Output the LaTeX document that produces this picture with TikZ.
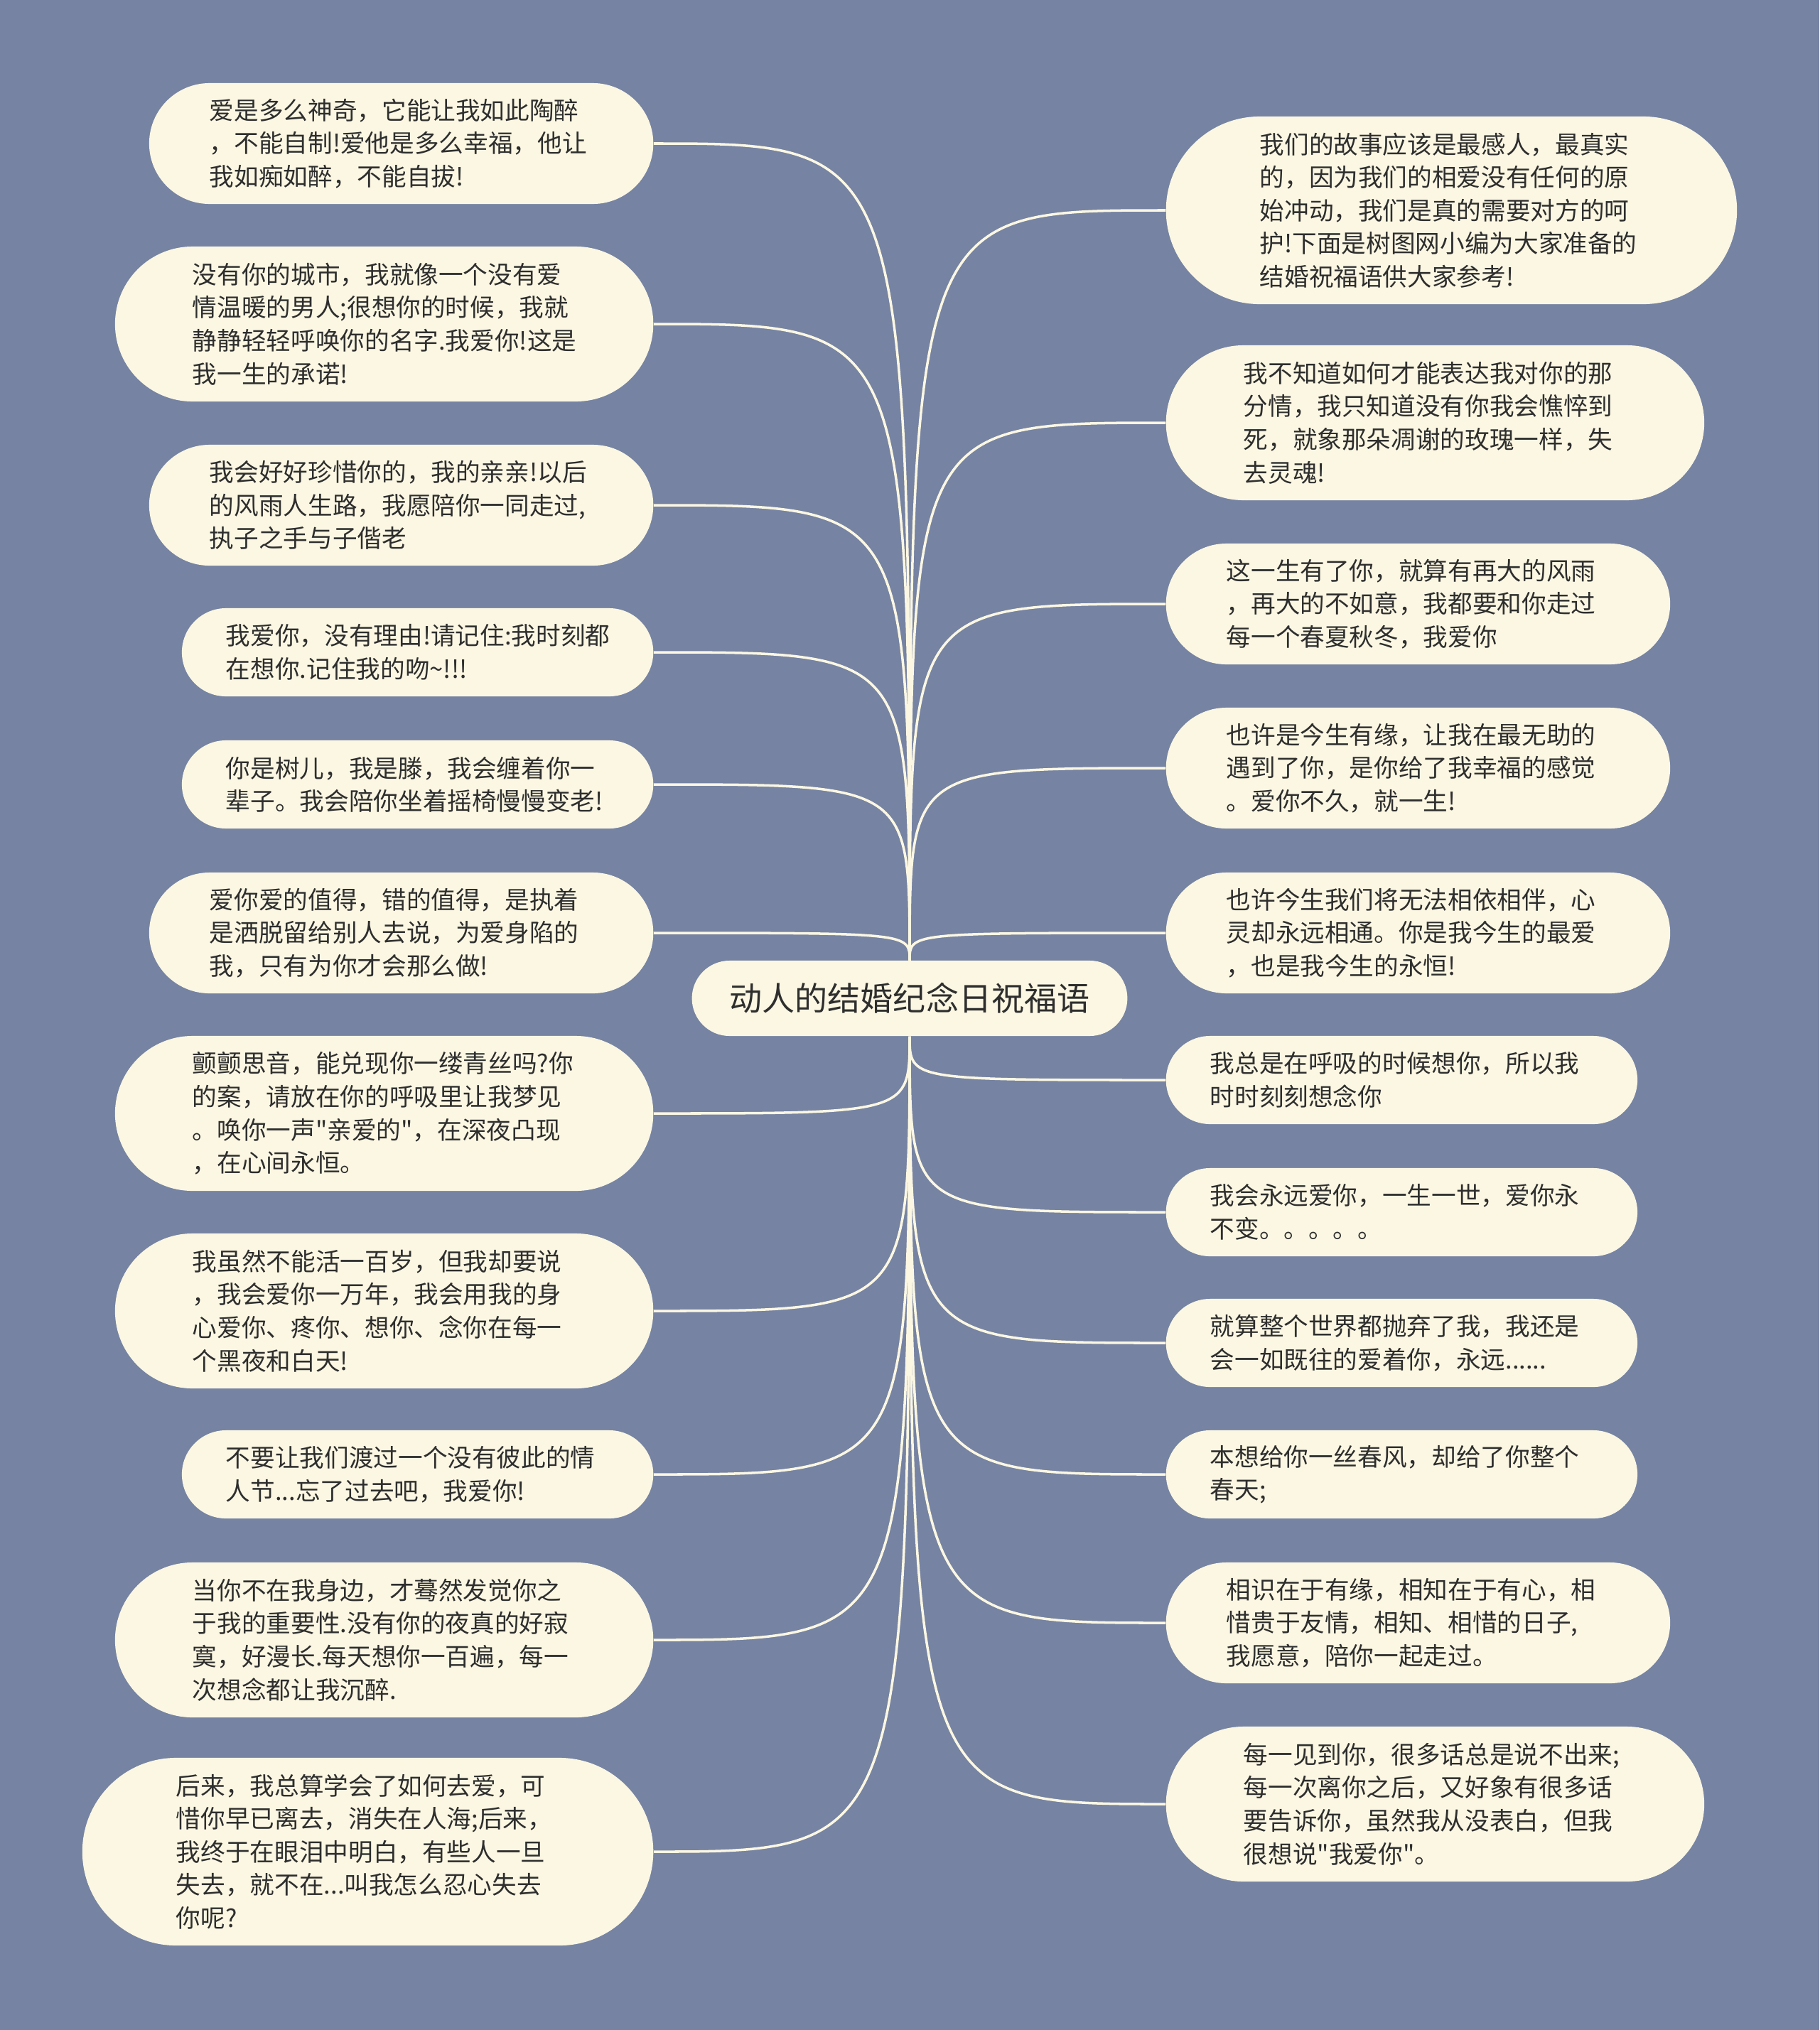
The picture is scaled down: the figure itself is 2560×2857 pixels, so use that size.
\documentclass[tikz,border=0pt]{standalone}
\usepackage{fontspec}
\newfontfamily\cjk{Noto Sans CJK SC}
\usetikzlibrary{backgrounds}
\definecolor{slate}{HTML}{7683A2}
\definecolor{paper}{HTML}{FBF7E3}
\definecolor{ink}{HTML}{2E2E2E}

\begin{document}
\begin{tikzpicture}[
  x=0.01cm, y=-0.01cm,
  leaf/.style={fill=paper, text=ink, align=left, text width=5.39cm, inner ysep=0pt,
               font=\cjk\fontsize{9.85pt}{13.25pt}\selectfont},
  two/.style={leaf, minimum height=1.24cm, inner xsep=0.62cm, rounded corners=0.62cm},
  three/.style={leaf, minimum height=1.70cm, inner xsep=0.85cm, rounded corners=0.85cm},
  four/.style={leaf, minimum height=2.18cm, inner xsep=1.09cm, rounded corners=1.09cm},
  five/.style={leaf, minimum height=2.64cm, inner xsep=1.32cm, rounded corners=1.32cm},
  hub/.style={fill=paper, text=ink, minimum height=1.06cm, inner ysep=0pt,
              inner xsep=0.53cm, rounded corners=0.53cm,
              font=\cjk\fontsize{13.1pt}{15pt}\selectfont},
  ln/.style={draw=paper, line width=1pt}
]
\node[hub] (root) at (1280,1405) {动人的结婚纪念日祝福语};

% left column
\node[three, anchor=east] (l1) at (920,202) {爱是多么神奇，它能让我如此陶醉\\，不能自制!爱他是多么幸福，他让\\我如痴如醉，不能自拔!};
\node[four, anchor=east] (l2) at (920,456) {没有你的城市，我就像一个没有爱\\情温暖的男人;很想你的时候，我就\\静静轻轻呼唤你的名字.我爱你!这是\\我一生的承诺!};
\node[three, anchor=east] (l3) at (920,711) {我会好好珍惜你的，我的亲亲!以后\\的风雨人生路，我愿陪你一同走过,\\执子之手与子偕老};
\node[two, anchor=east] (l4) at (920,918) {我爱你，没有理由!请记住:我时刻都\\在想你.记住我的吻\textasciitilde!!!};
\node[two, anchor=east] (l5) at (920,1104) {你是树儿，我是滕，我会缠着你一\\辈子。我会陪你坐着摇椅慢慢变老!};
\node[three, anchor=east] (l6) at (920,1313) {爱你爱的值得，错的值得，是执着\\是洒脱留给别人去说，为爱身陷的\\我，只有为你才会那么做!};
\node[four, anchor=east] (l7) at (920,1567) {颤颤思音，能兑现你一缕青丝吗?你\\的案，请放在你的呼吸里让我梦见\\。唤你一声"亲爱的"，在深夜凸现\\，在心间永恒。};
\node[four, anchor=east] (l8) at (920,1845) {我虽然不能活一百岁，但我却要说\\，我会爱你一万年，我会用我的身\\心爱你、疼你、想你、念你在每一\\个黑夜和白天!};
\node[two, anchor=east] (l9) at (920,2075) {不要让我们渡过一个没有彼此的情\\人节...忘了过去吧，我爱你!};
\node[four, anchor=east] (l10) at (920,2308) {当你不在我身边，才蓦然发觉你之\\于我的重要性.没有你的夜真的好寂\\寞，好漫长.每天想你一百遍，每一\\次想念都让我沉醉.};
\node[five, anchor=east] (l11) at (920,2606) {后来，我总算学会了如何去爱，可\\惜你早已离去，消失在人海;后来，\\我终于在眼泪中明白，有些人一旦\\失去，就不在...叫我怎么忍心失去\\你呢?};

% right column
\node[five, anchor=west] (r1) at (1640,296) {我们的故事应该是最感人，最真实\\的，因为我们的相爱没有任何的原\\始冲动，我们是真的需要对方的呵\\护!下面是树图网小编为大家准备的\\结婚祝福语供大家参考!};
\node[four, anchor=west] (r2) at (1640,595) {我不知道如何才能表达我对你的那\\分情，我只知道没有你我会憔悴到\\死，就象那朵凋谢的玫瑰一样，失\\去灵魂!};
\node[three, anchor=west] (r3) at (1640,850) {这一生有了你，就算有再大的风雨\\，再大的不如意，我都要和你走过\\每一个春夏秋冬，我爱你};
\node[three, anchor=west] (r4) at (1640,1081) {也许是今生有缘，让我在最无助的\\遇到了你，是你给了我幸福的感觉\\。爱你不久，就一生!};
\node[three, anchor=west] (r5) at (1640,1313) {也许今生我们将无法相依相伴，心\\灵却永远相通。你是我今生的最爱\\，也是我今生的永恒!};
\node[two, anchor=west] (r6) at (1640,1520) {我总是在呼吸的时候想你，所以我\\时时刻刻想念你};
\node[two, anchor=west] (r7) at (1640,1706) {我会永远爱你，一生一世，爱你永\\不变。。。。。};
\node[two, anchor=west] (r8) at (1640,1890) {就算整个世界都抛弃了我，我还是\\会一如既往的爱着你，永远......};
\node[two, anchor=west] (r9) at (1640,2075) {本想给你一丝春风，却给了你整个\\春天;};
\node[three, anchor=west] (r10) at (1640,2284) {相识在于有缘，相知在于有心，相\\惜贵于友情，相知、相惜的日子,\\我愿意，陪你一起走过。};
\node[four, anchor=west] (r11) at (1640,2539) {每一见到你，很多话总是说不出来;\\每一次离你之后，又好象有很多话\\要告诉你，虽然我从没表白，但我\\很想说"我爱你"。};

\begin{scope}[on background layer]
\fill[slate] (0,0) rectangle (2560,2857);
\foreach \i in {1,...,6}
  \draw[ln] (root.north) .. controls (root.north |- l\i.east) .. (l\i.east);
\foreach \i in {7,...,11}
  \draw[ln] (root.south) .. controls (root.south |- l\i.east) .. (l\i.east);
\foreach \i in {1,...,5}
  \draw[ln] (root.north) .. controls (root.north |- r\i.west) .. (r\i.west);
\foreach \i in {6,...,11}
  \draw[ln] (root.south) .. controls (root.south |- r\i.west) .. (r\i.west);
\end{scope}
\end{tikzpicture}
\end{document}
